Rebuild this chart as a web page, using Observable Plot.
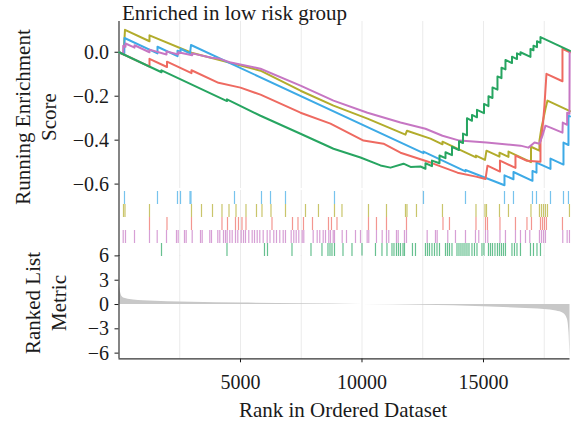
<!DOCTYPE html>
<html><head><meta charset="utf-8">
<script src="https://cdn.jsdelivr.net/npm/d3@7"></script>
<script src="https://cdn.jsdelivr.net/npm/@observablehq/plot@0.6"></script>
<style>
body{margin:0;background:#fff;}
#wrap{position:relative;width:571px;height:426px;font-family:"Liberation Serif","DejaVu Serif",serif;color:#1a1a1a;overflow:hidden;}
#wrap svg{position:absolute;left:0;background:transparent !important;overflow:visible !important;font-family:"Liberation Serif","DejaVu Serif",serif !important;font-size:20px !important;color:#1a1a1a;}
#wrap svg text{font-family:"Liberation Serif","DejaVu Serif",serif !important;font-size:20px !important;}
.lab{position:absolute;white-space:pre;text-align:center;font-size:21px;line-height:26px;transform:translate(-50%,-50%) rotate(-90deg);}
.ttl{position:absolute;white-space:pre;font-size:21px;}
</style></head><body><div id="wrap"></div>
<script>
// ---- data ----
const rankMax = 18560;
const gridTicks = [2500, 5000, 7500, 10000, 12500, 15000, 17500];
const xTicks = [5000, 10000, 15000];
const esTicks = [-0.6, -0.4, -0.2, 0];
const metricTicks = [-6, -3, 0, 3, 6];

const setNames = ["blue", "olive", "red", "pink", "green"];
const setColors = ["#3DAAE6", "#B2AC2C", "#EE6A61", "#C676C3", "#27A561"];

const blueRank = [0, 218, 226, 1584, 1584, 2407, 2407, 2531, 2531, 2922, 2963, 12530, 12530, 14259, 14259, 15864, 15864, 16234, 16234, 17016, 17016, 17181, 17181, 17757, 17757, 18292, 18292, 18497, 18497, 18560];
const blueES = [0, -0.011, 0.065, -0.005, 0.025, -0.018, 0.007, 0.000, 0.016, -0.005, 0.033, -0.459, -0.452, -0.542, -0.536, -0.605, -0.560, -0.578, -0.545, -0.585, -0.540, -0.548, -0.502, -0.531, -0.484, -0.511, -0.411, -0.422, -0.289, -0.292];

const oliveRank = [0, 185, 247, 1255, 1255, 2983, 5823, 7469, 8827, 10226, 11789, 11851, 12818, 13312, 13312, 14691, 14691, 15061, 15123, 15658, 15658, 16028, 16028, 16954, 16954, 17303, 17303, 17386, 17468, 17550, 17633, 18538, 18560];
const oliveES = [0, -0.010, 0.102, 0.050, 0.077, -0.002, -0.084, -0.175, -0.243, -0.302, -0.375, -0.357, -0.393, -0.419, -0.407, -0.478, -0.470, -0.490, -0.448, -0.475, -0.457, -0.476, -0.452, -0.500, -0.430, -0.448, -0.402, -0.343, -0.302, -0.257, -0.220, -0.267, -0.268];

const redRank = [0, 1255, 1255, 1975, 1975, 2983, 2983, 4095, 4999, 5823, 7469, 8703, 10061, 10884, 11584, 12818, 13930, 14691, 15082, 15164, 15678, 15678, 16316, 16316, 16789, 17345, 17345, 17427, 17509, 17591, 18250, 18250, 18560];
const redES = [0, -0.065, -0.030, -0.067, -0.043, -0.095, -0.082, -0.139, -0.161, -0.193, -0.275, -0.325, -0.402, -0.416, -0.457, -0.502, -0.548, -0.566, -0.577, -0.516, -0.543, -0.493, -0.526, -0.470, -0.494, -0.498, -0.411, -0.348, -0.243, -0.098, -0.132, 0.016, 0.0];

const pinkRank = [0, 173, 173, 267, 267, 597, 638, 638, 1255, 1255, 1955, 1955, 2436, 2436, 3012, 3012, 3806, 4148, 4550, 5823, 7469, 8827, 10226, 11584, 12612, 13312, 14012, 15123, 16522, 16850, 17100, 17303, 17427, 17550, 17757, 18250, 18262, 18443, 18443, 18538, 18545];
const pinkES = [0, -0.008, 0.030, 0.025, 0.040, 0.023, 0.021, 0.032, 0.000, 0.012, -0.010, 0.004, -0.010, 0.000, -0.014, -0.005, -0.025, -0.030, -0.045, -0.075, -0.152, -0.220, -0.275, -0.320, -0.348, -0.380, -0.402, -0.411, -0.425, -0.434, -0.411, -0.416, -0.380, -0.334, -0.343, -0.366, -0.320, -0.330, -0.275, -0.280, 0.0];

const greenRank = [0, 1749, 1749, 4444, 4444, 5823, 7469, 8827, 9938, 10761, 11173, 11708, 12000, 12408, 12612, 12612, 12880, 12880, 13189, 13189, 13436, 13436, 13703, 13703, 13991, 13991, 14156, 14156, 14320, 14320, 14526, 14526, 14732, 14732, 15020, 15020, 15205, 15205, 15370, 15370, 15575, 15575, 15740, 15740, 15904, 15904, 16172, 16172, 16378, 16378, 16522, 16522, 16933, 16933, 17057, 17057, 17201, 17201, 17345, 17345, 18560];
const greenES = [0, -0.091, -0.082, -0.222, -0.214, -0.289, -0.371, -0.439, -0.479, -0.515, -0.525, -0.507, -0.522, -0.520, -0.530, -0.505, -0.518, -0.493, -0.505, -0.470, -0.482, -0.455, -0.468, -0.430, -0.445, -0.405, -0.413, -0.370, -0.378, -0.300, -0.312, -0.285, -0.296, -0.262, -0.277, -0.235, -0.245, -0.200, -0.208, -0.160, -0.170, -0.110, -0.118, -0.070, -0.078, -0.035, -0.049, -0.020, -0.031, -0.005, -0.012, 0.000, -0.021, 0.015, 0.009, 0.030, 0.023, 0.050, 0.043, 0.069, 0.006];

const blueHits = [226, 1584, 2407, 2531, 2922, 2963, 4753, 5864, 6235, 6852, 8868, 12530, 14259, 15864, 16234, 17016, 17181, 17757, 18292, 18497];
const oliveHits = [185, 247, 1255, 2983, 3395, 3848, 4238, 4527, 4815, 5226, 5658, 5884, 6255, 6852, 7675, 8209, 8868, 9176, 10267, 11008, 11789, 11851, 12242, 13312, 14691, 15061, 15123, 15658, 16028, 16954, 17303, 17386, 17468, 17550, 17633, 18538];
const redHits = [1255, 1975, 2983, 4238, 4465, 4794, 4917, 5061, 5226, 6296, 7140, 7366, 7592, 7963, 8621, 8744, 8971, 10267, 10596, 11008, 11831, 13333, 13600, 14691, 15082, 15164, 15678, 16316, 16789, 16975, 17345, 17427, 17509, 17591, 18250];
const pinkHits = [173, 267, 638, 1255, 1572, 1955, 2366, 2436, 2695, 2765, 3012, 3354, 3424, 3736, 3806, 4066, 4148, 4300, 4383, 4452, 4559, 4658, 4794, 4889, 5029, 5123, 5205, 5341, 5481, 5576, 5687, 5794, 5934, 6098, 6214, 6370, 6481, 6617, 6757, 6851, 7086, 7193, 7292, 7399, 7539, 7605, 7991, 8156, 8263, 8403, 8498, 8633, 8703, 8814, 8868, 9185, 9362, 9732, 9938, 10213, 10279, 10596, 10831, 11008, 11102, 11419, 11489, 11748, 11831, 12682, 13024, 13094, 13530, 13847, 14259, 14670, 14806, 15082, 15176, 15678, 15904, 16316, 16522, 16728, 16905, 17303, 17386, 17468, 17550, 18262, 18443, 18538];
const greenHits = [1749, 4444, 5987, 6111, 7119, 7901, 8353, 8600, 8683, 8765, 8868, 9218, 9588, 10000, 10555, 10822, 11028, 11234, 11316, 11419, 11501, 11584, 11687, 11748, 12077, 12201, 12612, 12695, 12777, 12880, 12983, 13086, 13189, 13436, 13518, 13600, 13703, 13909, 13991, 14073, 14156, 14238, 14320, 14403, 14526, 14629, 14732, 14937, 15020, 15205, 15288, 15370, 15472, 15575, 15658, 15740, 15822, 15904, 16172, 16275, 16378, 16522, 16933, 17057, 17201, 17345];

const metricRank = [0, 30, 80, 150, 300, 600, 1000, 2000, 3000, 5000, 7500, 10000, 12500, 15000, 16500, 17500, 18000, 18300, 18450, 18520, 18560];
const metricValue = [2.6, 2.0, 1.3, 0.9, 0.7, 0.55, 0.45, 0.35, 0.28, 0.18, 0.08, 0.0, -0.1, -0.28, -0.45, -0.6, -0.8, -1.1, -1.8, -3.5, -6.6];

// ---- build ----
(function () {
const font = '"Liberation Serif","DejaVu Serif",serif';
const ink = "#1a1a1a";
const gridColor = "#ebebeb";
const axisColor = "#333";
const W = 571, ML = 118.5, MR = 1.5;
const wrap = document.getElementById("wrap");
const pts = (r, e) => r.map((x, i) => ({x, y: e[i]}));
const minus = d => (d < 0 ? "\u2212" : "");

const curves = [
  {r: oliveRank, e: oliveES, c: setColors[1]},
  {r: blueRank, e: blueES, c: setColors[0]},
  {r: redRank, e: redES, c: setColors[2]},
  {r: pinkRank, e: pinkES, c: setColors[3]},
  {r: greenRank, e: greenES, c: setColors[4]}
];

const topPlot = Plot.plot({
  width: W, height: 190, marginLeft: ML, marginRight: MR, marginTop: 21, marginBottom: 2,
  style: {fontFamily: font, fontSize: "20px", color: ink, background: "transparent", overflow: "visible"},
  x: {domain: [0, rankMax], axis: null},
  y: {domain: [-0.62, 0.14], ticks: esTicks, tickFormat: d => minus(d) + Math.abs(d).toFixed(1), tickSize: 4, tickPadding: 6, label: null},
  marks: [
    Plot.ruleX(gridTicks, {stroke: gridColor, strokeWidth: 1}),
    Plot.ruleX([0], {stroke: axisColor, strokeWidth: 1.2}),
    ...curves.map(s => Plot.line(pts(s.r, s.e), {x: "x", y: "y", stroke: s.c, strokeWidth: 2}))
  ]
});
topPlot.style.top = "0px";
wrap.appendChild(topPlot);

const hitSets = [blueHits, oliveHits, redHits, pinkHits, greenHits];
const midPlot = Plot.plot({
  width: W, height: 68, marginLeft: ML, marginRight: MR, marginTop: 2, marginBottom: 0,
  style: {fontFamily: font, background: "transparent", overflow: "visible"},
  x: {domain: [0, rankMax], axis: null},
  y: {domain: setNames, axis: null, padding: 0},
  marks: [
    Plot.ruleX(gridTicks, {stroke: gridColor, strokeWidth: 1}),
    Plot.ruleX([0], {stroke: axisColor, strokeWidth: 1.2, insetTop: -2}),
    ...hitSets.map((h, i) => Plot.tickX(h, {x: d => d, y: () => setNames[i], stroke: setColors[i], strokeWidth: 1.2, strokeOpacity: 0.7}))
  ]
});
midPlot.style.top = "188px";
wrap.appendChild(midPlot);

const botPlot = Plot.plot({
  width: W, height: 171, marginLeft: ML, marginRight: MR, marginTop: 0, marginBottom: 67.7,
  style: {fontFamily: font, fontSize: "20px", color: ink, background: "transparent", overflow: "visible"},
  x: {domain: [0, rankMax], ticks: xTicks, tickFormat: d => String(d), tickSize: 4, tickPadding: 12, label: null},
  y: {domain: [-6.7, 6.05], ticks: metricTicks, tickFormat: d => minus(d) + Math.abs(d), tickSize: 4, tickPadding: 6, label: null},
  marks: [
    Plot.ruleX(gridTicks, {stroke: gridColor, strokeWidth: 1}),
    Plot.areaY(pts(metricRank, metricValue), {x: "x", y: "y", fill: "#c8c8c8", curve: "monotone-x"}),
    Plot.ruleX([0], {stroke: axisColor, strokeWidth: 1.2}),
    Plot.ruleY([-6.7], {stroke: axisColor, strokeWidth: 1.2})
  ]
});
botPlot.style.top = "255px";
wrap.appendChild(botPlot);

function addDiv(cls, text, css) {
  const d = document.createElement("div");
  d.className = cls; d.textContent = text;
  Object.assign(d.style, css);
  wrap.appendChild(d);
}
addDiv("ttl", "Enriched in low risk group", {left: "122px", top: "0px", lineHeight: "26px"});
addDiv("lab", "Running Enrichment\nScore", {left: "36px", top: "117px"});
addDiv("lab", "Ranked List\nMetric", {left: "46px", top: "303px"});
addDiv("ttl", "Rank in Ordered Dataset", {left: "343px", top: "410px", transform: "translate(-50%,-50%)"});
})();
</script>
</body></html>
